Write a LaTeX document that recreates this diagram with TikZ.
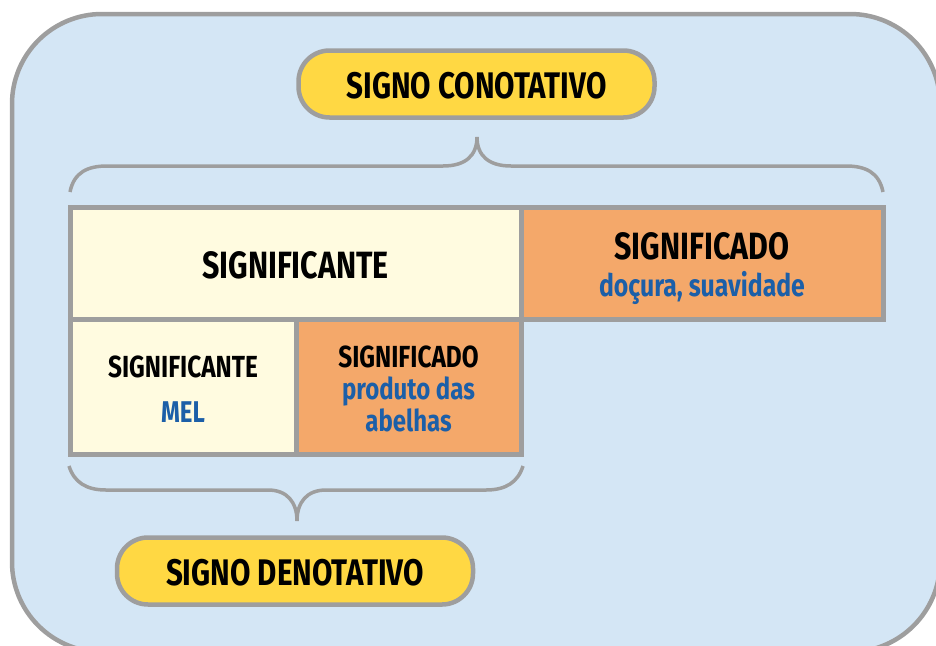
\documentclass[tikz,border=0pt]{standalone}
\usepackage{fontspec}
\setmainfont{Fira Sans}[FakeStretch=0.8]
\definecolor{lgray}{HTML}{9E9E9E}
\definecolor{bgblue}{HTML}{D4E6F5}
\definecolor{pillyellow}{HTML}{FFD843}
\definecolor{cream}{HTML}{FFFBE0}
\definecolor{orangecell}{HTML}{F4A86A}
\definecolor{txtblue}{HTML}{1C5FA8}
\tikzset{
  cellbox/.style={draw=lgray, line width=5pt, inner sep=0pt},
  creamcell/.style={cellbox, fill=cream},
  orangecell/.style={cellbox, fill=orangecell},
  pillbox/.style={draw=lgray, line width=4.5pt, fill=pillyellow, rounded corners=31pt, minimum width=356pt, minimum height=67pt, inner sep=0pt},
  bracestyle/.style={draw=lgray, line width=3.5pt},
  lbl/.style={anchor=base, inner sep=0pt, text=black},
  bluelbl/.style={anchor=base, inner sep=0pt, text=txtblue},
}
\newcommand{\fpill}{\fontsize{37}{41}\selectfont\bfseries}
\newcommand{\fbig}{\fontsize{38}{42}\selectfont\bfseries}
\newcommand{\fsmall}{\fontsize{30.5}{34}\selectfont\bfseries}
\newcommand{\fbluebig}{\fontsize{31}{34}\selectfont\bfseries}
\newcommand{\fbluesmall}{\fontsize{30}{33}\selectfont\bfseries}
\begin{document}
\begin{tikzpicture}[x=1pt,y=-1pt]
\useasboundingbox (0,0) rectangle (936,645);
\clip (0,0) rectangle (936,645);
\draw[line width=4.5pt, draw=lgray, fill=bgblue, rounded corners=90pt] (12,14) rectangle (940,652);

% top pill
\node[pillbox] (conot) at (476.5,84) {};
\node[lbl, font=\fpill] at (476.5,98) {SIGNO CONOTATIVO};

% top brace
\coordinate (tbl) at (70,192);
\coordinate (tbr) at (883,192);
\coordinate (tbtip) at (477,137);
\draw[bracestyle] (tbl) .. controls (74,172) and (88,166) .. (107,166) -- (443,166)
  .. controls (465,166) and (477,156) .. (tbtip)
  .. controls (477,156) and (489,166) .. (511,166) -- (846,166)
  .. controls (865,166) and (879,172) .. (tbr);

% cells
\node[creamcell, minimum width=451pt, minimum height=112pt] (sigA) at (295.5,263) {};
\node[orangecell, minimum width=362pt, minimum height=112pt] (sigB) at (702,263) {};
\node[creamcell, minimum width=226pt, minimum height=135pt] (sigC) at (183,386.5) {};
\node[orangecell, minimum width=225pt, minimum height=135pt] (sigD) at (408.5,386.5) {};

\node[lbl, font=\fbig] at (295.5,278) {SIGNIFICANTE};
\node[lbl, font=\fbig] at (702,259) {SIGNIFICADO};
\node[bluelbl, font=\fbluebig] at (702,296) {doçura, suavidade};
\node[lbl, font=\fsmall] at (183,377) {SIGNIFICANTE};
\node[bluelbl, font=\fbluesmall] at (183,422) {MEL};
\node[lbl, font=\fsmall] at (408.5,367) {SIGNIFICADO};
\node[bluelbl, font=\fbluesmall] at (408.5,399) {produto das};
\node[bluelbl, font=\fbluesmall] at (408.5,431) {abelhas};

% bottom brace
\coordinate (bbl) at (69,466);
\coordinate (bbr) at (523,466);
\coordinate (bbtip) at (297,521);
\draw[bracestyle] (bbl) .. controls (74,482) and (86,490) .. (106,490) -- (268,490)
  .. controls (287,490) and (297,502) .. (bbtip)
  .. controls (297,502) and (307,490) .. (326,490) -- (486,490)
  .. controls (506,490) and (518,482) .. (bbr);

% bottom pill
\node[pillbox] (denot) at (295,571) {};
\node[lbl, font=\fpill] at (295,585) {SIGNO DENOTATIVO};
\end{tikzpicture}
\end{document}
